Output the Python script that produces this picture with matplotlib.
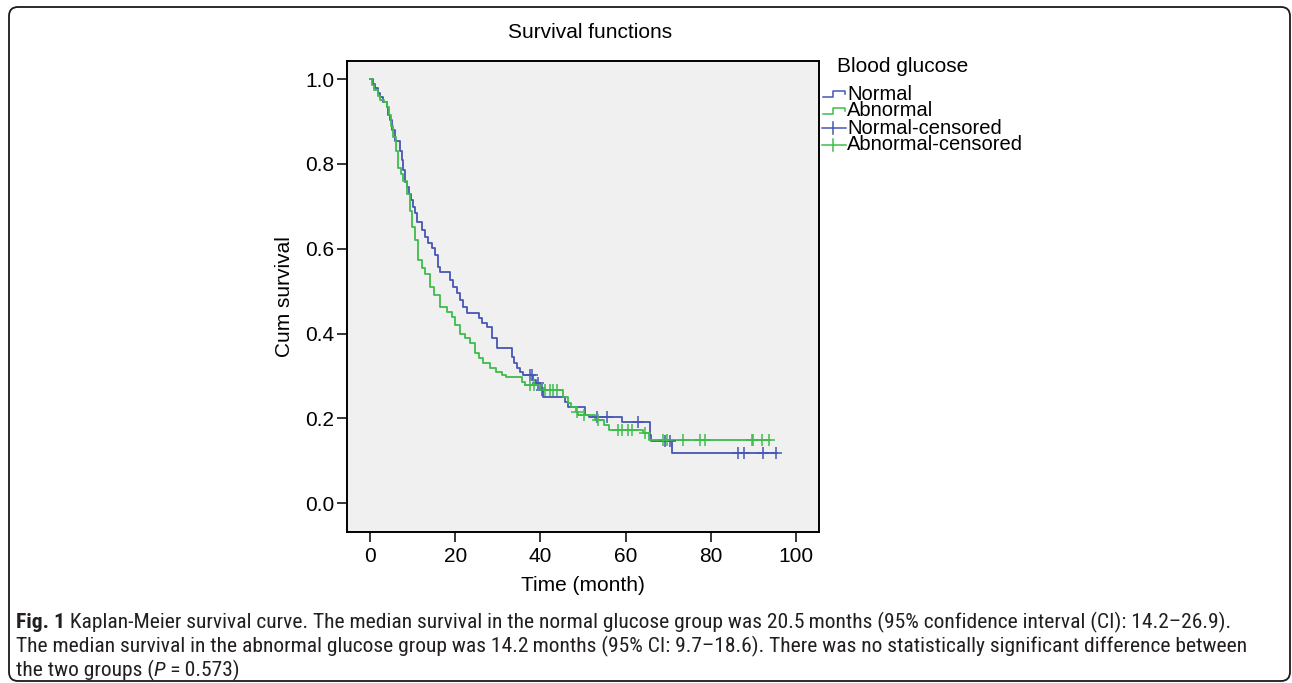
import numpy as np

import matplotlib
matplotlib.use('Agg')
import matplotlib.pyplot as plt
from matplotlib.lines import Line2D
from matplotlib.patches import FancyBboxPatch
from matplotlib.transforms import IdentityTransform
from matplotlib import font_manager

# Kaplan-Meier steps (time in months, survival after the step)
normal_t = [0, 0.7, 1.2, 1.9, 2.3, 3.1, 4.0, 4.2, 4.7, 5.2, 5.9, 7.0, 7.5, 7.8, 8.2,
            8.7, 9.2, 9.7, 10.1, 10.6, 11.0, 12.2, 12.9, 13.6, 14.5, 15.3, 16.0, 16.4,
            18.8, 19.5, 20.4, 21.1, 21.8, 22.8, 25.6, 26.3, 27.5, 28.6, 29.8, 33.3,
            33.8, 34.6, 35.2, 35.8, 38.2, 39.0, 39.9, 40.7, 45.8, 46.5, 50.5, 51.5,
            59.2, 65.7, 66.0, 70.9, 95.5]
normal_s = [1.0, 0.988, 0.978, 0.967, 0.957, 0.946, 0.935, 0.915, 0.903, 0.88, 0.854,
            0.83, 0.81, 0.785, 0.758, 0.745, 0.73, 0.715, 0.698, 0.684, 0.663, 0.644,
            0.627, 0.613, 0.601, 0.585, 0.557, 0.545, 0.526, 0.509, 0.495, 0.479,
            0.462, 0.448, 0.436, 0.425, 0.415, 0.39, 0.366, 0.345, 0.33, 0.318, 0.309,
            0.302, 0.29, 0.283, 0.267, 0.25, 0.238, 0.226, 0.208, 0.203, 0.191, 0.16,
            0.146, 0.118, 0.118]
normal_cens = [37.5, 38.1, 39.4, 40.4, 53.4, 55.6, 63.0, 69.2, 70.4,
               86.4, 87.9, 92.3, 95.3]

abnormal_t = [0, 0.5, 1.0, 1.8, 2.3, 3.2, 4.0, 4.5, 5.0, 5.4, 6.0, 6.6, 7.2, 7.8, 8.6,
              9.4, 9.9, 10.5, 11.3, 12.3, 12.9, 14.1, 15.0, 16.4, 18.0, 19.2, 20.0,
              21.1, 22.3, 23.5, 24.6, 25.5, 26.5, 28.2, 29.5, 31.0, 32.0, 35.7, 36.5,
              40.0, 41.0, 45.3, 46.5, 47.3, 48.3, 48.8, 52.8, 55.0, 56.0, 64.1, 65.5,
              94.0]
abnormal_s = [1.0, 0.985, 0.974, 0.96, 0.95, 0.945, 0.934, 0.915, 0.89, 0.863, 0.83,
              0.79, 0.775, 0.76, 0.73, 0.69, 0.65, 0.62, 0.573, 0.555, 0.54, 0.51,
              0.49, 0.462, 0.45, 0.439, 0.42, 0.40, 0.39, 0.377, 0.354, 0.343, 0.33,
              0.318, 0.309, 0.303, 0.297, 0.285, 0.278, 0.271, 0.267, 0.25, 0.236,
              0.226, 0.215, 0.208, 0.196, 0.184, 0.172, 0.165, 0.149, 0.149]
abnormal_cens = [37.6, 38.4, 41.1, 42.3, 43.0, 43.9, 48.5, 50.3, 53.5, 58.3, 59.2,
                 60.6, 61.5, 64.5, 68.8, 69.7, 73.5, 77.5, 78.6, 89.6, 89.9, 92.0, 93.6]

xticks = [0, 20, 40, 60, 80, 100]
yticks = [0.0, 0.2, 0.4, 0.6, 0.8, 1.0]
legend_labels = ['Normal', 'Abnormal', 'Normal-censored', 'Abnormal-censored']

BLUE = '#4657b5'
GREEN = '#3dbd4a'

W, H = 1292, 683
plt.rcParams['font.family'] = ['Liberation Sans', 'DejaVu Sans']

fig = plt.figure(figsize=(W / 100, H / 100), dpi=100)


def fx(x):
    return x / W


def fy(y):
    return 1 - y / H


ax = fig.add_axes([fx(347), fy(532), fx(819) - fx(347), fy(61) - fy(532)])
ax.set_facecolor('#f0f0f0')


def at_time(t, s, c):
    i = np.searchsorted(t, c, side='right') - 1
    return np.asarray(s)[i]


ax.step(normal_t, normal_s, where='post', color=BLUE, lw=1.3)
ax.step(abnormal_t, abnormal_s, where='post', color=GREEN, lw=1.3)
ax.plot(normal_cens, at_time(normal_t, normal_s, normal_cens), '+', color=BLUE, ms=8, mew=1.1)
ax.plot(abnormal_cens, at_time(abnormal_t, abnormal_s, abnormal_cens), '+', color=GREEN, ms=8, mew=1.1)

ax.set_xlim(-5.4, 105.4)
ax.set_ylim(-0.068, 1.0425)
ax.set_xticks(xticks)
ax.set_yticks(yticks)
ax.set_yticklabels(['%.1f' % v for v in yticks])
ax.tick_params(axis='both', direction='out', length=7, width=1.1, labelsize=15,
               colors='black')
ax.tick_params(axis='y', pad=2)
ax.tick_params(axis='x', pad=4)
for sp in ax.spines.values():
    sp.set_linewidth(1.4)
ax.set_xlabel('Time (month)', fontsize=15, labelpad=7)
ax.set_ylabel('Cum survival', fontsize=15, labelpad=8)
fig.text(fx(590), fy(32), 'Survival functions', fontsize=15, ha='center', va='center')

# legend drawn by hand to keep the tight SPSS spacing
fig.text(fx(837), fy(66), 'Blood glucose', fontsize=15, ha='left', va='center')
rows = [94, 111, 128, 145]
cols = [BLUE, GREEN, BLUE, GREEN]
for i, (lab, y, c) in enumerate(zip(legend_labels, rows, cols)):
    if i < 2:
        xs = [823, 833, 833, 845, 845]
        ys = [y + 3, y + 3, y - 3, y - 3, y]
        fig.add_artist(Line2D([fx(v) for v in xs], [fy(v) for v in ys], color=c, lw=1.1))
    else:
        fig.add_artist(Line2D([fx(822), fx(846)], [fy(y), fy(y)], color=c, lw=1.1))
        fig.add_artist(Line2D([fx(833), fx(833)], [fy(y - 6), fy(y + 6)], color=c, lw=1.1))
    fig.text(fx(847), fy(y), lab, fontsize=14.5, ha='left', va='center')

# rounded frame around the whole figure
frame = FancyBboxPatch((9, H - 681), 1281, 674, boxstyle='round,pad=0,rounding_size=9',
                       transform=IdentityTransform(), fill=False, ec='#1a1a1a', lw=1.3)
fig.add_artist(frame)

# caption, in a narrow face when one is installed
names = {f.name for f in font_manager.fontManager.ttflist}
cap_font = 'Liberation Sans'
for cand in ['Liberation Sans Narrow', 'Roboto Condensed', 'Open Sans Condensed']:
    if cand in names:
        cap_font = cand
        break
renderer = fig.canvas.get_renderer()

line1 = [('Fig. 1', 'bold', 'normal'),
         (' Kaplan-Meier survival curve. The median survival in the normal glucose group '
          'was 20.5\u2009months (95% confidence interval (CI): 14.2\u201326.9).', 'normal', 'normal')]
line2 = [('The median survival in the abnormal glucose group was 14.2\u2009months (95% CI: '
          '9.7\u201318.6). There was no statistically significant difference between',
          'normal', 'normal')]
line3 = [('the two groups (', 'normal', 'normal'), ('P', 'normal', 'italic'),
         ('\u2009=\u20090.573)', 'normal', 'normal')]

probe = fig.text(0, 0, ''.join(p[0] for p in line1), fontsize=10, family=[cap_font, 'DejaVu Sans'])
w10 = probe.get_window_extent(renderer).width
probe.remove()
cap_size = 10 * (1222 - 16) / w10


def caption_line(y, parts):
    x = 16
    for txt, weight, style in parts:
        t = fig.text(fx(x), fy(y), txt, fontsize=cap_size, fontweight=weight,
                     fontstyle=style, family=[cap_font, 'DejaVu Sans'],
                     color='#231f20', ha='left', va='center')
        x = t.get_window_extent(renderer).x1


caption_line(622, line1)
caption_line(646, line2)
caption_line(670, line3)

fig.savefig('out.png', dpi=100)
plt.close(fig)
